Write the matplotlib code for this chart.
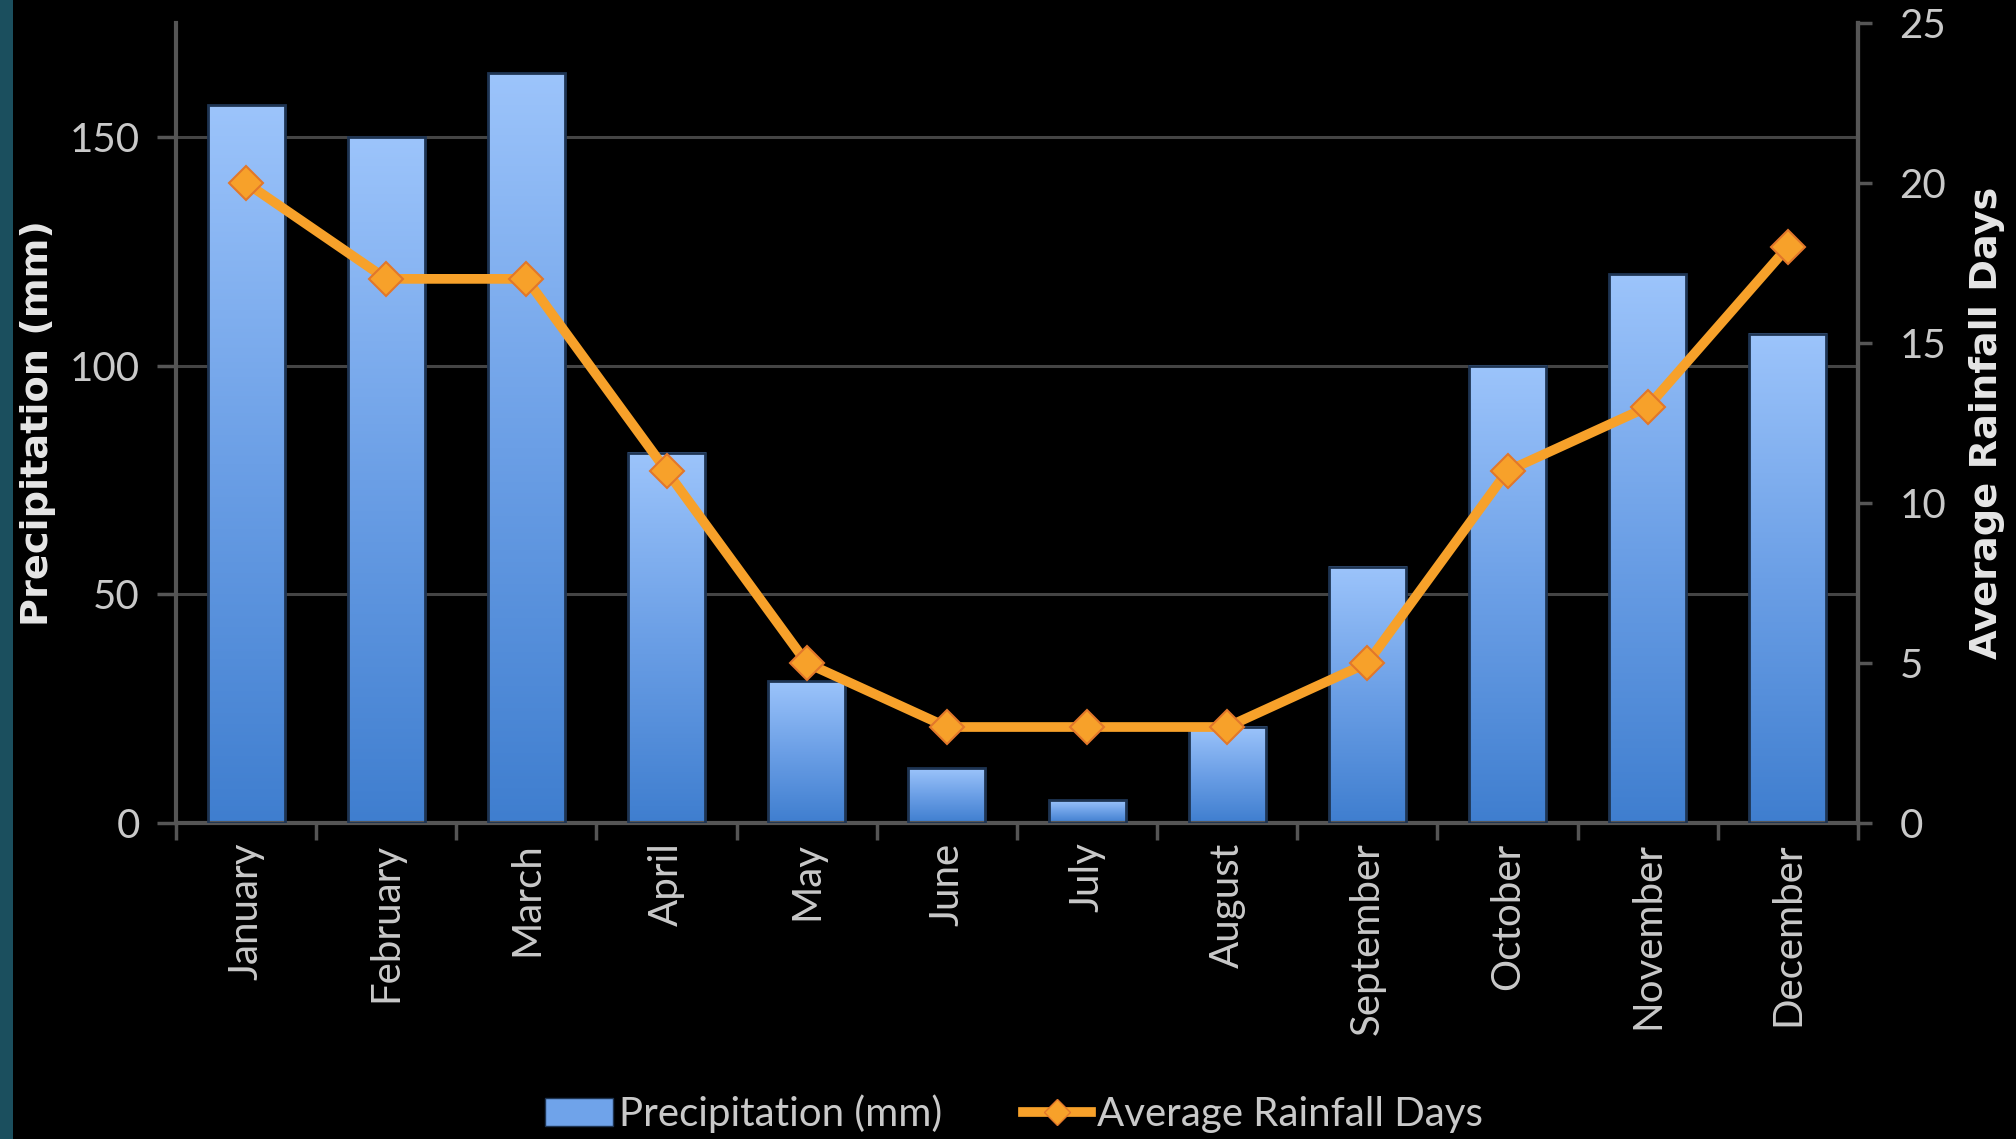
import numpy as np
import matplotlib
matplotlib.use("Agg")
import matplotlib.pyplot as plt
from matplotlib.patches import Rectangle
from matplotlib.lines import Line2D

months = ["January", "February", "March", "April", "May", "June",
          "July", "August", "September", "October", "November", "December"]
precip_mm = [157, 150, 164, 81, 31, 12, 5, 21, 56, 100, 120, 107]
rain_days = [20, 17, 17, 11, 5, 3, 3, 3, 5, 11, 13, 18]

left_ticks = [0, 50, 100, 150]
right_ticks = [0, 5, 10, 15, 20, 25]

plt.rcParams['font.family'] = ['Lato', 'DejaVu Sans']

TXT = "#c9c9c9"
GRID = "#444444"
SPINE = "#555555"
ORANGE = "#f7a12a"

fig = plt.figure(figsize=(20.16, 11.39), dpi=100, facecolor="black")
# teal strip on the left edge
fig.add_artist(Rectangle((0, 0), 13 / 2016, 1, transform=fig.transFigure,
                         facecolor="#1b4f5e", edgecolor="none"))

ax = fig.add_axes([0.0873, 0.2774, 0.9216 - 0.0873, 0.980 - 0.2774])
ax.set_facecolor("black")

x = np.arange(len(months))
w = 0.55

# vertical gradient for the bars
grad = np.linspace(0, 1, 256).reshape(-1, 1)
cmap = matplotlib.colors.LinearSegmentedColormap.from_list(
    "blues", ["#3f7ecf", "#6b9fe6", "#9cc4fb"])
for xi, h in zip(x, precip_mm):
    ax.imshow(grad, extent=[xi - w / 2, xi + w / 2, 0, h], origin="lower",
              aspect="auto", cmap=cmap, zorder=2)
    ax.add_patch(Rectangle((xi - w / 2, 0), w, h, facecolor="none",
                           edgecolor="#1e3452", lw=2, zorder=3))
ax.set_xlim(-0.5, len(months) - 0.5)
ax.set_ylim(0, 175)

ax.set_yticks(left_ticks)
ax.yaxis.grid(True, color=GRID, lw=2.2, zorder=0)
ax.set_axisbelow(True)
ax.set_xticks(x)
ax.set_xticklabels(months, rotation=90, color=TXT, fontsize=29)
ax.set_xticks(np.arange(-0.5, len(months)), minor=True)
ax.tick_params(axis="x", which="major", length=0, pad=14)
ax.tick_params(axis="x", which="minor", length=12, width=2.5, color=SPINE,
               direction="out")
ax.tick_params(axis="y", colors=TXT, labelsize=29, length=14, width=2.5,
               pad=12)
ax.tick_params(axis="y", color=SPINE)
ax.spines["top"].set_visible(False)
for s in ["left", "right", "bottom"]:
    ax.spines[s].set_color(SPINE)
    ax.spines[s].set_linewidth(3)
ax.set_ylabel("Precipitation (mm)", color="#e6e6e6", fontsize=27.5,
              fontweight="bold", family="DejaVu Sans", labelpad=10)

ax2 = ax.twinx()
ax2.set_ylim(0, 25)
ax2.set_yticks(right_ticks)
ax2.plot(x, rain_days, color=ORANGE, lw=7, marker="D", markersize=17,
         markerfacecolor=ORANGE, markeredgecolor="#e2772a",
         markeredgewidth=1.5, zorder=5)
ax2.tick_params(axis="y", colors=TXT, labelsize=29, length=10, width=2.5,
                pad=20)
ax2.tick_params(axis="y", color=SPINE)
for s in ["top", "left", "bottom"]:
    ax2.spines[s].set_visible(False)
ax2.spines["right"].set_color(SPINE)
ax2.spines["right"].set_linewidth(3)
ax2.set_ylabel("Average Rainfall Days", color="#e6e6e6", fontsize=27.5,
               fontweight="bold", family="DejaVu Sans", labelpad=16)

handles = [Rectangle((0, 0), 1, 1, facecolor="#6fa3ea", edgecolor="#1e3452"),
           Line2D([], [], color=ORANGE, lw=7, marker="D", markersize=13,
                  markerfacecolor=ORANGE, markeredgecolor="#e2772a")]
fig.legend(handles, ["Precipitation (mm)", "Average Rainfall Days"],
           loc="center", bbox_to_anchor=(0.503, 0.022), ncol=2,
           frameon=False, fontsize=29, labelcolor=TXT, handlelength=1.7,
           handletextpad=0.15, columnspacing=2.0)

fig.savefig("out.png", dpi=100, facecolor="black")
